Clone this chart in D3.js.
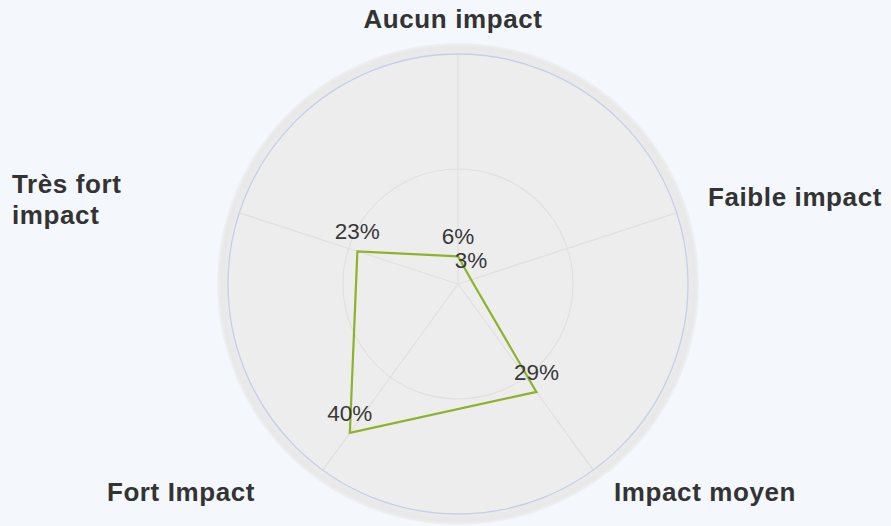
<!DOCTYPE html>
<html><head><meta charset="utf-8">
<script src="https://cdn.jsdelivr.net/npm/d3@7"></script>
<style>
html,body{margin:0;padding:0;background:#f4f8fc;}
svg{display:block;}
</style></head>
<body>
<svg id="chart" width="891" height="526"></svg>
<script>
const categories = ["Aucun impact", "Faible impact", "Impact moyen", "Fort Impact", "Très fort impact"];
const values = [6, 3, 29, 40, 23];
const valueLabels = ["6%", "3%", "29%", "40%", "23%"];
const gridTicks = [25, 50];
const maxValue = 50;

const svg = d3.select("#chart");
const cx = 458, cy = 284, R = 230;
const r = d3.scaleLinear().domain([0, maxValue]).range([0, R]);
const angle = d3.scaleLinear().domain([0, categories.length]).range([0, 2 * Math.PI]);
const pt = (i, v) => {
  const a = angle(i) - Math.PI / 2;
  return [cx + r(v) * Math.cos(a), cy + r(v) * Math.sin(a)];
};

const defs = svg.append("defs");
const grad = defs.append("radialGradient").attr("id", "rim").attr("cx", "50%").attr("cy", "50%").attr("r", "50%");
grad.append("stop").attr("offset", "0.94").attr("stop-color", "#ececec");
grad.append("stop").attr("offset", "0.985").attr("stop-color", "#e8e8e8");
grad.append("stop").attr("offset", "1").attr("stop-color", "#eef1f4");

svg.append("circle").attr("cx", cx).attr("cy", cy).attr("r", R + 11).attr("fill", "url(#rim)");
svg.append("circle").attr("cx", cx).attr("cy", cy).attr("r", R).attr("fill", "#ededed");

// grid circles
svg.selectAll("circle.grid").data(gridTicks.slice(0, -1)).enter().append("circle")
  .attr("class", "grid").attr("cx", cx).attr("cy", cy).attr("r", d => r(d))
  .attr("fill", "none").attr("stroke", "#e0e0e0").attr("stroke-width", 1.2);

// spokes
svg.selectAll("line.spoke").data(categories).enter().append("line")
  .attr("class", "spoke")
  .attr("x1", cx).attr("y1", cy)
  .attr("x2", (d, i) => pt(i, maxValue)[0]).attr("y2", (d, i) => pt(i, maxValue)[1])
  .attr("stroke", "#e0e0e0").attr("stroke-width", 1.2);

// outer axis circle
svg.append("circle").attr("cx", cx).attr("cy", cy).attr("r", r(maxValue))
  .attr("fill", "none").attr("stroke", "#c6cfe8").attr("stroke-width", 1.3);

// data polygon
const line = d3.line().curve(d3.curveLinearClosed);
svg.append("path").attr("d", line(values.map((v, i) => pt(i, v))))
  .attr("fill", "none").attr("stroke", "#8cb32a").attr("stroke-width", 2.2);

// value labels
svg.selectAll("text.val").data(values).enter().append("text")
  .attr("class", "val")
  .attr("x", (v, i) => pt(i, v)[0])
  .attr("y", (v, i) => pt(i, v)[1] - 12)
  .attr("text-anchor", "middle")
  .attr("font-family", "Liberation Sans, Arial, sans-serif")
  .attr("font-size", 22.5).attr("fill", "#383838")
  .text((v, i) => valueLabels[i]);

// category labels
const catPos = [
  {x: 453, y: 28, anchor: "middle", lines: ["Aucun impact"]},
  {x: 708, y: 206, anchor: "start", lines: ["Faible impact"]},
  {x: 705, y: 501, anchor: "middle", lines: ["Impact moyen"]},
  {x: 181, y: 501, anchor: "middle", lines: ["Fort Impact"]},
  {x: 12, y: 193, anchor: "start", lines: ["Très fort", "impact"]}
];
catPos.forEach((p, i) => {
  const t = svg.append("text")
    .attr("x", p.x).attr("y", p.y).attr("text-anchor", p.anchor)
    .attr("font-family", "Liberation Sans, Arial, sans-serif")
    .attr("font-weight", "bold").attr("font-size", 26)
    .attr("letter-spacing", 0.6)
    .attr("fill", "#333333");
  const lines = i === 4 ? p.lines : [categories[i]];
  lines.forEach((l, j) => t.append("tspan").attr("x", p.x).attr("dy", j === 0 ? 0 : 31).text(l));
});
</script>
</body></html>
